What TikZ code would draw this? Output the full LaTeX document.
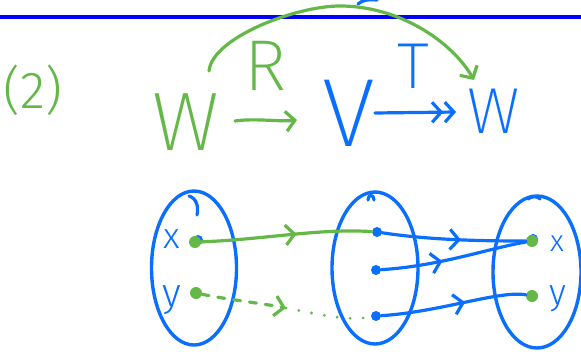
\documentclass[tikz,border=0pt]{standalone}
\usepackage{fontspec}
\newfontfamily\hand{Fira Sans Light}
\newfontfamily\thinhand{Fira Sans ExtraLight}
\usetikzlibrary{arrows.meta,decorations.markings,shapes.geometric}
\definecolor{pg}{RGB}{100,184,72}
\definecolor{pb}{RGB}{10,110,255}
\definecolor{rulecol}{RGB}{0,0,255}
\begin{document}
\begin{tikzpicture}[x=1pt,y=-1pt,line cap=round,line join=round,
  >={Straight Barb[length=9pt,width=20pt]},
  gline/.style={pg,line width=3.2pt},
  bline/.style={pb,line width=3.2pt},
  midarrow/.style={postaction={decorate},decoration={markings,mark=at position #1 with {\arrow{>}}}},
  glabel/.style={text=pg,inner sep=0pt},
  blabel/.style={text=pb,inner sep=0pt},
  set/.style={draw=pb,line width=3.4pt,ellipse,inner sep=0pt},
  gdot/.style={circle,fill=pg,inner sep=0pt,minimum size=12pt},
  bdot/.style={circle,fill=pb,inner sep=0pt,minimum size=10pt}]
\useasboundingbox (0,0) rectangle (581,351);
% top rule
\draw[rulecol,line width=4pt] (0,17) -- (581,17);
\draw[bline] (358,4) .. controls (362,0) and (370,-1) .. (377,0);
% labels
\node[glabel,font=\hand\fontsize{52}{52}\selectfont] (num) at (33,90) {(2)};
\node[glabel,font=\thinhand\fontsize{83}{83}\selectfont] (W1) at (186,122) {W};
\node[glabel,font=\thinhand\fontsize{72}{72}\selectfont] (R) at (266,66) {R};
\node[blabel,font=\thinhand\fontsize{97}{97}\selectfont] (V) at (349,113) {V};
\node[blabel,font=\thinhand\fontsize{65}{65}\selectfont] (T) at (413,66) {T};
\node[blabel,font=\thinhand\fontsize{65}{65}\selectfont] (W2) at (494,111) {W};
% arrows top
\coordinate (ra) at (235,121);
\coordinate (rb) at (297,120);
\draw[gline,->] (ra) .. controls (255,118) and (280,122) .. (rb);
\coordinate (ta) at (375,113);
\coordinate (tb) at (456,112);
\draw[bline,->>] (ta) -- (tb);
\coordinate (ca) at (209,71);
\coordinate (cb) at (474,80);
\draw[gline,->] (ca) .. controls (212,38) and (295,6) .. (340,6) .. controls (400,6) and (452,42) .. (cb);
% sets
\node[set,minimum width=85pt,minimum height=154pt] (S1) at (194,268) {};
\node[set,minimum width=86pt,minimum height=152pt] (S2) at (375,268) {};
\node[set,minimum width=88pt,minimum height=152pt] (S3) at (537,272) {};
\draw[bline] (189,196) .. controls (196,198) and (199,206) .. (197,215);
\draw[bline] (368,200) .. controls (368,194) and (374,194) .. (374,200);
\draw[bline] (528,199) .. controls (531,196) and (538,196) .. (540,199);
% elements
\node[blabel,font=\hand\fontsize{36}{36}\selectfont] (lx1) at (172,239) {x};
\node[blabel,font=\hand\fontsize{40}{40}\selectfont] (ly1) at (172,300) {y};
\node[bdot] (x1b) at (198,240) {};
\node[gdot] (x1) at (195,242) {};
\node[gdot] (y1) at (196,293) {};
\node[bdot] (a) at (377,232) {};
\node[bdot] (b) at (376,270) {};
\node[bdot] (c) at (376,316) {};
\node[bdot] (x3b) at (533,239) {};
\node[gdot] (x3) at (532,241) {};
\node[gdot] (y3) at (532,296) {};
\node[blabel,font=\hand\fontsize{30}{30}\selectfont] (lx3) at (557,244) {x};
\node[blabel,font=\hand\fontsize{36}{36}\selectfont] (ly3) at (558,299) {y};
% maps
\draw[gline,midarrow=0.56] (x1) .. controls (260,240) and (320,228) .. (a);
\coordinate (m) at (286,308);
\draw[gline,dash pattern=on 7pt off 9pt,->] (y1) .. controls (230,300) and (260,303) .. (m);
\draw[gline,dash pattern=on 0pt off 13pt] (m) .. controls (310,312) and (345,322) .. (c);
\draw[bline,midarrow=0.55] (a) .. controls (430,240) and (480,241) .. (x3);
\draw[bline,midarrow=0.42] (b) .. controls (440,266) and (490,248) .. (x3);
\draw[bline,midarrow=0.58] (c) .. controls (440,312) and (500,290) .. (y3);
\end{tikzpicture}
\end{document}
